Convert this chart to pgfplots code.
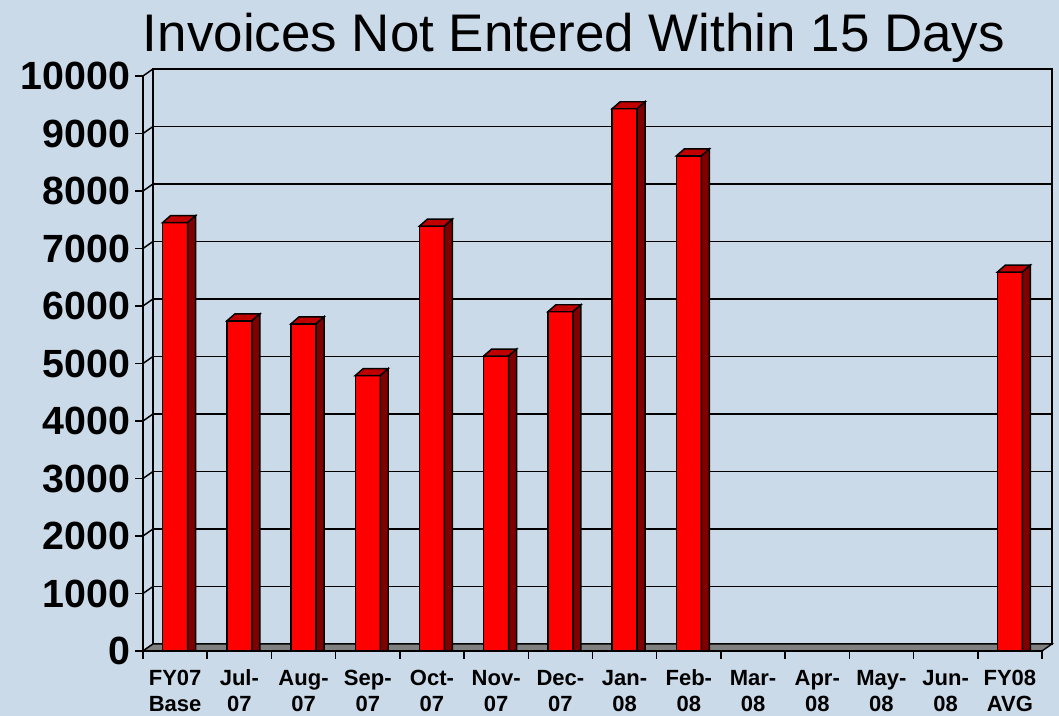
\documentclass[border=0pt]{standalone}
\usepackage{pgfplots}
\pgfplotsset{compat=1.18}
\usepackage{fontspec}
\setmainfont{Liberation Sans}
\definecolor{bgblue}{RGB}{203,218,233}
\definecolor{topred}{RGB}{192,0,0}
\definecolor{sidered}{RGB}{128,0,0}
\definecolor{floorgray}{RGB}{128,128,128}
\newcommand\lb[2]{\strut#1\\\strut#2}
% 3D faces of a bar: top and right side, drawn at the bar's top centre
\pgfdeclareplotmark{bar3d}{%
  \pgfmathsetmacro{\hh}{\rawy*0.043125}%
  \pgfpathmoveto{\pgfqpoint{-9.375pt}{0pt}}%
  \pgfpathlineto{\pgfqpoint{-3.375pt}{5.25pt}}%
  \pgfpathlineto{\pgfqpoint{15.375pt}{5.25pt}}%
  \pgfpathlineto{\pgfqpoint{9.375pt}{0pt}}%
  \pgfpathclose
  \pgfsetfillcolor{topred}%
  \pgfusepath{fill,stroke}%
  \pgfpathmoveto{\pgfqpoint{9.375pt}{0pt}}%
  \pgfpathlineto{\pgfqpoint{15.375pt}{5.25pt}}%
  \pgfpathlineto{\pgfqpoint{15.375pt}{-\hh pt+5.25pt}}%
  \pgfpathlineto{\pgfqpoint{9.375pt}{-\hh pt}}%
  \pgfpathclose
  \pgfsetfillcolor{sidered}%
  \pgfusepath{fill,stroke}%
}
\pgfplotstableread{
x y
0 7450
1 5740
2 5690
3 4790
4 7390
5 5130
6 5900
7 9430
8 8610
13 6590
}\datatable
\begin{document}
\begin{tikzpicture}
\fill[bgblue] (0,0) rectangle (794.25pt,537pt);
\useasboundingbox (0,0) rectangle (794.25pt,537pt);
% back wall
\begin{axis}[
  at={(114.75pt,54pt)}, anchor=south west,
  scale only axis, width=674.25pt, height=431.25pt,
  xmin=-0.5, xmax=13.5, ymin=0, ymax=10000,
  xtick=\empty, ytick={0,1000,...,10000}, yticklabels=\empty,
  scaled y ticks=false, scaled x ticks=false,
  major tick length=0pt,
  ymajorgrids, grid style={black, line width=1.2pt},
  axis line style={black, line width=1.2pt},
]
\end{axis}
% left wall diagonals
\foreach \k in {0,...,10} {
  \draw[black, line width=1.1pt] (107.25pt,{48.75pt+\k*43.125pt}) -- (114.75pt,{54pt+\k*43.125pt});
}
% floor
\filldraw[fill=floorgray, draw=black, line width=1pt]
  (107.25pt,48.75pt) -- (781.5pt,48.75pt) -- (789pt,54pt) -- (114.75pt,54pt) -- cycle;
% front axis with bars
\begin{axis}[
  at={(107.25pt,48.75pt)}, anchor=south west,
  scale only axis, width=674.25pt, height=431.25pt,
  xmin=-0.5, xmax=13.5, ymin=0, ymax=10000,
  axis x line*=bottom, axis y line*=left,
  axis line style={black, line width=1.1pt, -},
  tick align=outside, major tick length=6pt, minor tick length=6pt,
  tick style={black, line width=1.1pt},
  major x tick style={draw=none},
  xtick={0,...,13},
  minor xtick={-0.5,0.5,...,13.5},
  xticklabels={{\lb{FY07}{Base}},{\lb{Jul-}{07}},{\lb{Aug-}{07}},{\lb{Sep-}{07}},{\lb{Oct-}{07}},{\lb{Nov-}{07}},{\lb{Dec-}{07}},{\lb{Jan-}{08}},{\lb{Feb-}{08}},{\lb{Mar-}{08}},{\lb{Apr-}{08}},{\lb{May-}{08}},{\lb{Jun-}{08}},{\lb{FY08}{AVG}}},
  xticklabel style={align=center, anchor=north, font=\fontsize{16.5}{20}\selectfont\bfseries, yshift=-2pt},
  ytick={0,1000,...,10000},
  scaled y ticks=false,
  yticklabel style={font=\fontsize{29.5}{31}\selectfont\bfseries,
    /pgf/number format/1000 sep={}, /pgf/number format/assume math mode=true},
  clip=false,
]
\addplot[ybar, bar width=18.75pt, fill=red, draw=black, line width=1.1pt,
  visualization depends on={rawy \as \rawy},
  mark=bar3d, mark options={draw=black, line width=1.1pt}]
  table[x=x, y=y] {\datatable};
\end{axis}
\node[anchor=base, font=\fontsize{39.7}{42}\selectfont] at (430.5pt,498pt) {Invoices Not Entered Within 15 Days};
\end{tikzpicture}
\end{document}
